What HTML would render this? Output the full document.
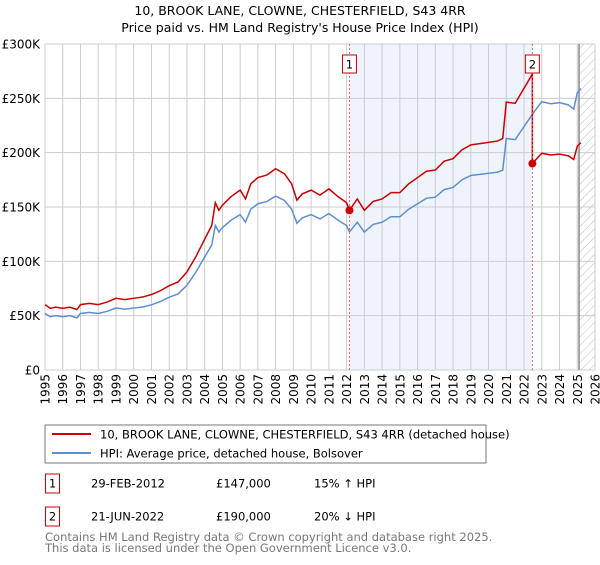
<!DOCTYPE html>
<html><head><meta charset="utf-8"><style>
body{margin:0;background:#fff;font-family:"Liberation Sans","DejaVu Sans",sans-serif;}
svg text{font-family:"DejaVu Sans","Liberation Sans",sans-serif;}
</style></head><body>
<svg id="chart" width="600" height="560" viewBox="0 0 600 560">
<defs><pattern id="hatch" width="6" height="6" patternUnits="userSpaceOnUse" patternTransform="rotate(45)"><line x1="0" y1="0" x2="0" y2="6" stroke="#bbb" stroke-width="1"/></pattern></defs>
<text x="300" y="15" text-anchor="middle" font-size="12.5">10, BROOK LANE, CLOWNE, CHESTERFIELD, S43 4RR</text>
<text x="300" y="32" text-anchor="middle" font-size="12.5">Price paid vs. HM Land Registry's House Price Index (HPI)</text>
<g id="grid"></g><g id="series"></g><g id="marks"></g>
<rect x="45" y="425" width="441" height="38" fill="#fff" stroke="#777"/>
<line x1="52" y1="434" x2="91" y2="434" stroke="#cc0000" stroke-width="2"/>
<text x="100" y="438.5" font-size="11.5">10, BROOK LANE, CLOWNE, CHESTERFIELD, S43 4RR (detached house)</text>
<line x1="52" y1="453" x2="91" y2="453" stroke="#5b8fd4" stroke-width="2"/>
<text x="100" y="457.5" font-size="11.5">HPI: Average price, detached house, Bolsover</text>
<g font-size="11.5">
<rect x="45.5" y="474" width="14" height="19" fill="#fff" stroke="#cc0000"/>
<text x="52.5" y="487.5" text-anchor="middle">1</text>
<text x="91" y="487.5">29-FEB-2012</text>
<text x="216" y="487.5">£147,000</text>
<text x="314" y="487.5">15% ↑ HPI</text>
<rect x="45.5" y="507" width="14" height="19" fill="#fff" stroke="#cc0000"/>
<text x="52.5" y="520.5" text-anchor="middle">2</text>
<text x="91" y="520.5">21-JUN-2022</text>
<text x="216" y="520.5">£190,000</text>
<text x="314" y="520.5">20% ↓ HPI</text>
</g>
<text x="45" y="541" font-size="11.5" fill="#777">Contains HM Land Registry data © Crown copyright and database right 2025.</text>
<text x="45" y="552" font-size="11.5" fill="#777">This data is licensed under the Open Government Licence v3.0.</text>
</svg>
<script>
const hpiYears=[1995,1995.3,1995.6,1996,1996.4,1996.8,1997,1997.5,1998,1998.5,1999,1999.5,2000,2000.5,2001,2001.5,2002,2002.5,2003,2003.5,2004,2004.4,2004.6,2004.8,2005,2005.5,2006,2006.3,2006.6,2007,2007.5,2008,2008.5,2008.9,2009.2,2009.5,2010,2010.5,2011,2011.5,2012,2012.16,2012.6,2013,2013.5,2014,2014.5,2015,2015.5,2016,2016.5,2017,2017.5,2018,2018.5,2019,2019.5,2020,2020.5,2020.8,2021,2021.5,2022,2022.5,2023,2023.5,2024,2024.5,2024.8,2025,2025.2];
const hpiValues=[52,49,50,49,50,48,52,53,52,54,57,56,57,58,60,63,67,70,78,90,104,115,133,127,131,138,143,136,148,153,155,160,156,148,135,140,143,139,144,138,133,127,136,127,134,136,141,141,148,153,158,159,166,168,175,179,180,181,182,184,213,212,224,236,247,245,246,244,240,255,259];
const sales=[{t:2012.16,price:147,label:"1"},{t:2022.47,price:190,label:"2"}];
const yTicks=[0,50,100,150,200,250,300];
const yTickLabels=["£0","£50K","£100K","£150K","£200K","£250K","£300K"];
const xTicks=[1995,1996,1997,1998,1999,2000,2001,2002,2003,2004,2005,2006,2007,2008,2009,2010,2011,2012,2013,2014,2015,2016,2017,2018,2019,2020,2021,2022,2023,2024,2025,2026];

const X0=45,X1=595,Y0=370,Y1=44;
const xs=t=>X0+(t-1995)/(2026-1995)*(X1-X0);
const ys=v=>Y0-v/300*(Y0-Y1);
const NS="http://www.w3.org/2000/svg";
function mk(tag,attrs,parent){const e=document.createElementNS(NS,tag);for(const k in attrs)e.setAttribute(k,attrs[k]);parent.appendChild(e);return e;}
const grid=document.getElementById('grid'),ser=document.getElementById('series'),marks=document.getElementById('marks');
function hpiAt(t){for(let i=1;i<hpiYears.length;i++){if(t<=hpiYears[i]){const f=(t-hpiYears[i-1])/(hpiYears[i]-hpiYears[i-1]);return hpiValues[i-1]+f*(hpiValues[i]-hpiValues[i-1]);}}return hpiValues[hpiValues.length-1];}
let sh=mk('rect',{x:xs(sales[0].t),y:Y1,width:xs(sales[1].t)-xs(sales[0].t),height:Y0-Y1,fill:'#eef3fc'},grid);


let hz=mk('rect',{x:xs(2025.1),y:Y1,width:X1-xs(2025.1),height:Y0-Y1,fill:'url(#hatch)'},grid);


xTicks.forEach(t=>{const l=mk('line',{x1:xs(t),x2:xs(t),y1:Y1,y2:Y0,stroke:'#ccc'},grid);


const tx=mk('text',{x:0,y:0,'font-size':12,'text-anchor':'end',transform:`translate(${xs(t)+4.5},${Y0+4}) rotate(-90)`},grid);tx.textContent=t;

});
yTicks.forEach((v,i)=>{const l=mk('line',{x1:X0,x2:X1,y1:ys(v),y2:ys(v),stroke:'#ccc'},grid);


const tx=mk('text',{x:40,y:ys(v)+4.5,'font-size':12,'text-anchor':'end'},grid);tx.textContent=yTickLabels[i];

});
let fl=mk('line',{x1:xs(2025.1),x2:xs(2025.1),y1:Y1,y2:Y0,stroke:'#888','stroke-width':1.5},grid);


const hp=mk('polyline',{points:hpiYears.map((t,i)=>xs(t)+','+ys(hpiValues[i])).join(' '),fill:'none',stroke:'#5b8fd4','stroke-width':1.5},ser);


const f1=sales[0].price/hpiAt(sales[0].t),f2=sales[1].price/hpiAt(sales[1].t);
let pts=[];
hpiYears.forEach((t,i)=>{if(t<sales[1].t)pts.push([t,hpiValues[i]*f1]);});
pts.push([sales[1].t,hpiAt(sales[1].t)*f1]);pts.push([sales[1].t,sales[1].price]);
hpiYears.forEach((t,i)=>{if(t>sales[1].t)pts.push([t,hpiValues[i]*f2]);});
const pl=mk('polyline',{points:pts.map(p=>xs(p[0])+','+ys(p[1])).join(' '),fill:'none',stroke:'#cc0000','stroke-width':1.5},ser);


sales.forEach(s=>{const x=xs(s.t);
const d=mk('line',{x1:x,x2:x,y1:Y1,y2:Y0,stroke:'#f06060','stroke-dasharray':'2,2'},marks);


const c=mk('circle',{cx:x,cy:ys(s.price),r:4,fill:'#cc0000'},marks);


const b=mk('rect',{x:x-7,y:55,width:14,height:18,fill:'#fff',stroke:'#cc0000'},marks);


const tx=mk('text',{x:x,y:68.5,'font-size':11.5,'text-anchor':'middle'},marks);tx.textContent=s.label;

});
</script>
</body></html>
